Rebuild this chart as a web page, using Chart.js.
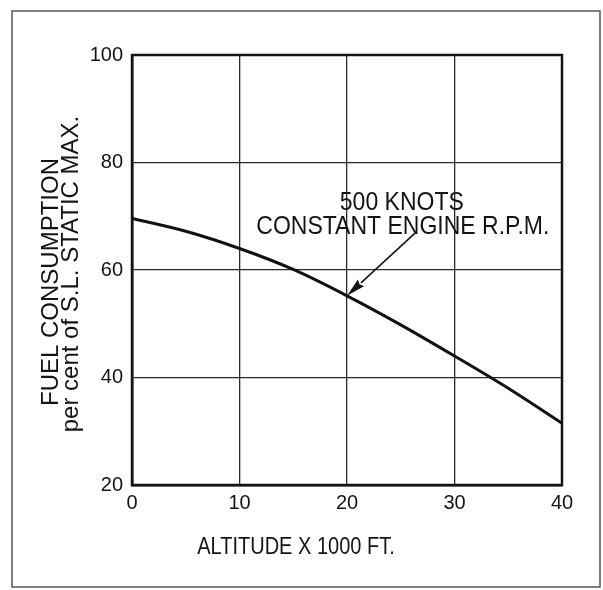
<!DOCTYPE html>
<html>
<head>
<meta charset="utf-8">
<title>Fuel consumption vs altitude</title>
<script src="https://cdn.jsdelivr.net/npm/chart.js@4/dist/chart.umd.min.js"></script>
<style>
  html, body { margin: 0; padding: 0; background: #ffffff; }
  #wrap { width: 603px; height: 590px; position: relative; }
</style>
</head>
<body>
<div id="wrap"><canvas id="c" width="603" height="590"></canvas></div>
<script>
// Altitude in thousands of feet and fuel consumption (% of sea-level static max)
const altitude = [0, 5, 10, 15, 20, 25, 30, 35, 40];
const fuelPct  = [69.6, 67.2, 64.0, 60.1, 55.2, 49.8, 44.0, 38.0, 31.5];

const xTicks = [0, 10, 20, 30, 40];
const yTicks = [20, 40, 60, 80, 100];

const xTitle = 'ALTITUDE X 1000 FT.';
const yTitleLines = ['FUEL CONSUMPTION', 'per cent of S.L. STATIC MAX.'];
const noteLines = ['500 KNOTS', 'CONSTANT ENGINE R.P.M.'];
// the note points at the curve at this altitude
const noteAltitude = 20;

const FONT = "'Liberation Sans', Arial, Helvetica, sans-serif";
const INK = '#141414';

const points = altitude.map((a, i) => ({ x: a, y: fuelPct[i] }));

// draws text with a slightly condensed, taller letterform
function tallText(ctx, text, x, y, size, squeeze) {
  ctx.save();
  ctx.translate(x, y);
  ctx.scale(squeeze, 1);
  ctx.font = size + 'px ' + FONT;
  ctx.fillText(text, 0, 0);
  ctx.restore();
}

const decor = {
  id: 'decor',
  beforeDraw(chart) {
    const ctx = chart.ctx;
    ctx.save();
    ctx.fillStyle = '#ffffff';
    ctx.fillRect(0, 0, chart.width, chart.height);
    // outer frame of the figure
    ctx.strokeStyle = '#555';
    ctx.lineWidth = 1.5;
    ctx.strokeRect(12, 11, 588, 576);
    ctx.restore();
  },
  afterDraw(chart) {
    const ctx = chart.ctx;
    const a = chart.chartArea;
    const xs = chart.scales.x, ys = chart.scales.y;
    ctx.save();
    // heavy plot border
    ctx.strokeStyle = INK;
    ctx.lineWidth = 2.5;
    ctx.strokeRect(a.left, a.top, a.right - a.left, a.bottom - a.top);

    // axis titles
    ctx.fillStyle = INK;
    ctx.textAlign = 'center';
    ctx.textBaseline = 'alphabetic';
    tallText(ctx, xTitle, 296, 554, 23, 0.87);

    ctx.save();
    ctx.translate(58, 282);
    ctx.rotate(-Math.PI / 2);
    tallText(ctx, yTitleLines[0], 0, 0, 24, 1);
    ctx.restore();
    ctx.save();
    ctx.translate(78, 274);
    ctx.rotate(-Math.PI / 2);
    tallText(ctx, yTitleLines[1], 0, 0, 24, 1);
    ctx.restore();

    // note text
    const nx = xs.getPixelForValue(25.1);
    const ny = ys.getPixelForValue(71.2);
    tallText(ctx, noteLines[0], nx, ny, 25, 0.92);
    tallText(ctx, noteLines[1], nx + 1, ny + 24, 25, 0.92);

    // arrow from the note to the curve
    const idx = altitude.indexOf(noteAltitude);
    const tx = xs.getPixelForValue(noteAltitude);
    const ty = ys.getPixelForValue(fuelPct[idx]);
    const sx = xs.getPixelForValue(26.3);
    const sy = ys.getPixelForValue(66.8);
    const ang = Math.atan2(ty - sy, tx - sx);
    const headLen = 19, headHalf = 4.5;
    const bx = tx - headLen * Math.cos(ang);
    const by = ty - headLen * Math.sin(ang);
    ctx.strokeStyle = INK;
    ctx.lineWidth = 1.6;
    ctx.beginPath();
    ctx.moveTo(sx, sy);
    ctx.lineTo(bx, by);
    ctx.stroke();
    ctx.beginPath();
    ctx.moveTo(tx, ty);
    ctx.lineTo(bx - headHalf * Math.sin(ang), by + headHalf * Math.cos(ang));
    ctx.lineTo(bx + 2 * Math.cos(ang), by + 2 * Math.sin(ang));
    ctx.lineTo(bx + headHalf * Math.sin(ang), by - headHalf * Math.cos(ang));
    ctx.closePath();
    ctx.fill();
    ctx.restore();
  }
};

new Chart(document.getElementById('c'), {
  type: 'line',
  data: {
    datasets: [{
      data: points,
      borderColor: '#111',
      borderWidth: 3,
      pointRadius: 0,
      cubicInterpolationMode: 'monotone',
      fill: false
    }]
  },
  options: {
    responsive: false,
    animation: false,
    events: [],
    layout: { padding: { top: 55, right: 41, left: 0, bottom: 0 } },
    plugins: { legend: { display: false }, tooltip: { enabled: false } },
    scales: {
      x: {
        type: 'linear',
        min: 0, max: 40,
        afterFit(s) { s.height = 105; },
        afterBuildTicks(s) { s.ticks = xTicks.map(v => ({ value: v })); },
        grid: { color: '#2a2a2a', lineWidth: 1.3, drawTicks: false },
        border: { display: true, color: INK, width: 2.5 },
        ticks: { color: INK, font: { family: FONT, size: 20 }, padding: 6, maxRotation: 0 }
      },
      y: {
        type: 'linear',
        min: 20, max: 100,
        afterFit(s) { s.width = 132; },
        afterBuildTicks(s) { s.ticks = yTicks.map(v => ({ value: v })); },
        grid: { color: '#2a2a2a', lineWidth: 1.3, drawTicks: false },
        border: { display: true, color: INK, width: 2.5 },
        ticks: { color: INK, font: { family: FONT, size: 20 }, padding: 9 }
      }
    }
  },
  plugins: [decor]
});
</script>
</body>
</html>
